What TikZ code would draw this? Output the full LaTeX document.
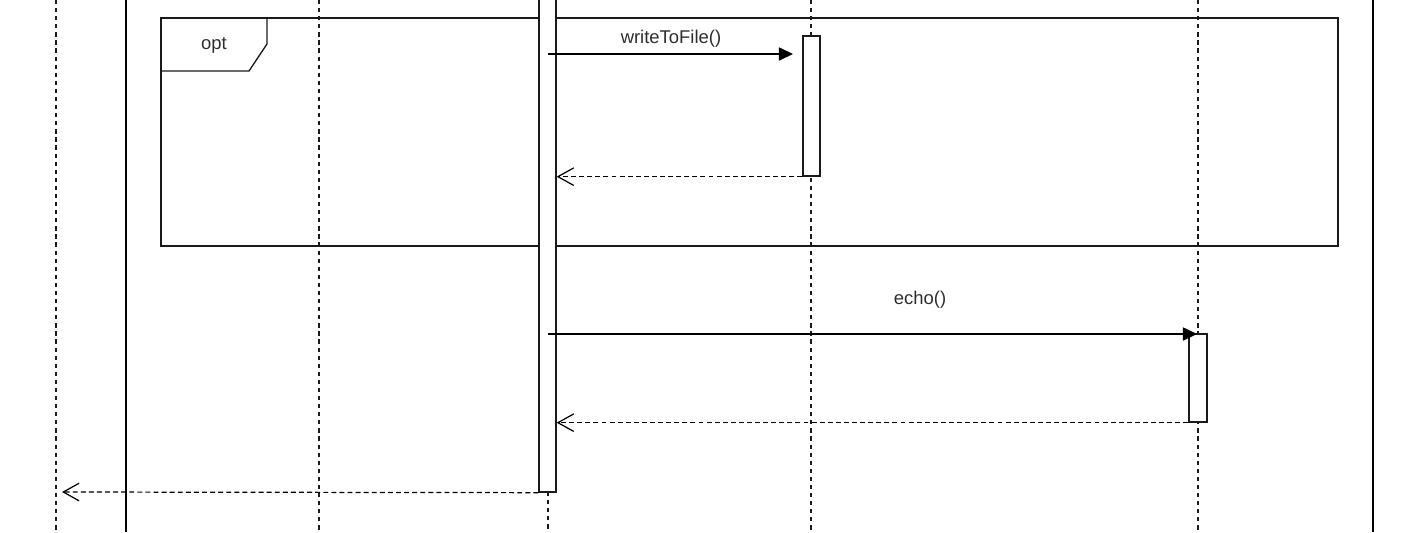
\documentclass[tikz,border=0pt]{standalone}
\usepackage{fontspec}
\setmainfont{Liberation Sans}
\usetikzlibrary{arrows.meta, positioning, calc, fit}
\definecolor{LabelGray}{HTML}{2E2E2E}
\definecolor{LineBlack}{HTML}{1A1A1A}

\begin{document}
\begin{tikzpicture}[x=0.02cm, y=-0.02cm, >=Stealth,
        lifeline/.style={draw=LineBlack, line width=0.6pt, dash pattern=on 2.4pt off 2.2pt},
        border/.style={draw=black, line width=1.1pt},
        frame/.style={draw=LineBlack, line width=0.75pt},
        activation/.style={draw=LineBlack, fill=white, line width=0.75pt, inner sep=0pt},
        call/.style={draw=black, line width=0.7pt, -{Triangle[length=8pt, width=7.5pt]}},
        reply/.style={draw=black, line width=0.7pt, dash pattern=on 2.8pt off 1.8pt,
            -{Straight Barb[length=9pt, width=10pt]}},
        msg/.style={font=\fontsize{10.5}{12}\selectfont, text=LabelGray, inner sep=1pt}]
        % Fixed page size (pixel grid of the reference)
        \useasboundingbox (0,0) rectangle (1424,532);

        % Lifelines
        \foreach \lx in {56, 319, 811, 1198}
            \draw[lifeline] (\lx,0) -- (\lx,532);
        \draw[lifeline] (548,492) -- (548,532);

        % Outer solid borders
        \draw[border] (126,0) -- (126,532);
        \draw[border] (1373,0) -- (1373,532);

        % Opt combined fragment with its tab
        \draw[frame] (161,18) rectangle (1338,246);
        \draw[frame] (267,18) -- (267,44) -- (249,71) -- (161,71);
        \node[msg] (optLabel) at (214,45) {opt};

        % Activation bars
        \node[activation, fit={(539,-2) (556,492)}] (actMain) {};
        \node[activation, fit={(803,36) (820,176)}] (actWrite) {};
        \node[activation, fit={(1189,334) (1207,422)}] (actEcho) {};

        % writeToFile() call and its reply
        \coordinate (writeFrom) at (548,54);
        \coordinate (writeTo) at (793,54);
        \draw[call] (writeFrom) -- (writeTo);
        \node[msg] (writeLabel) at (671,39) {writeToFile()};
        \draw[reply] (actWrite.south west) -- (actWrite.south west -| actMain.east);

        % echo() call and its reply
        \coordinate (echoFrom) at (548,334);
        \coordinate (echoTo) at (1197,334);
        \draw[call] (echoFrom) -- (echoTo);
        \node[msg] (echoLabel) at (920,300) {echo()};
        \draw[reply] (actEcho.south west) -- (actEcho.south west -| actMain.east);

        % Final reply back to the caller
        \coordinate (caller) at (62,492);
        \draw[reply] (actMain.south west) -- (caller);
    \end{tikzpicture}
\end{document}
